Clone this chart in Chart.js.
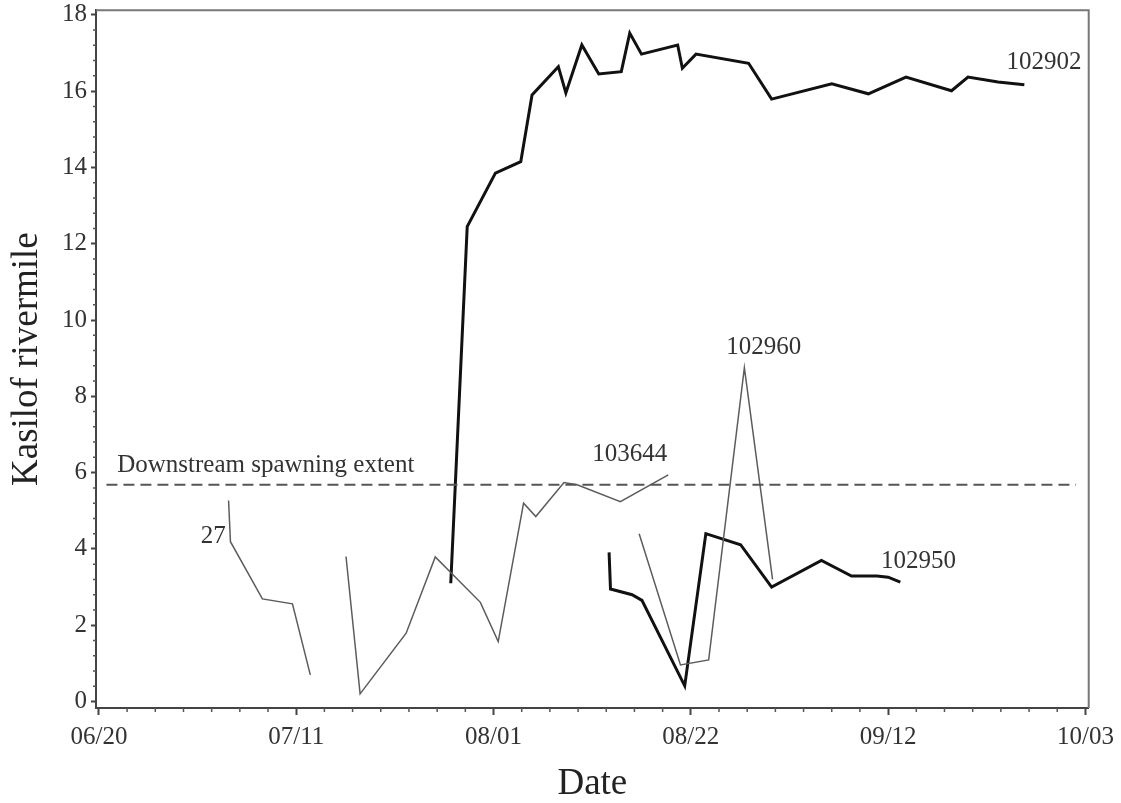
<!DOCTYPE html>
<html>
<head>
<meta charset="utf-8">
<script src="https://cdn.jsdelivr.net/npm/chart.js@4.4.1/dist/chart.umd.min.js"></script>
<style>
  html, body { margin: 0; padding: 0; background: #fff; }
  #wrap { width: 1121px; height: 803px; }
</style>
</head>
<body>
<div id="wrap"><canvas id="riverChart" width="1121" height="803"></canvas></div>
<script>
// x values are days after 06/20, y values are Kasilof rivermile
const tag27Days = [13.8, 14.0, 17.4, 20.6, 22.5];
const tag27Miles = [5.27, 4.19, 2.69, 2.56, 0.70];

const tag103644Days = [26.3, 27.8, 32.7, 35.8, 40.6, 42.5, 45.2, 46.5, 49.5, 50.9, 55.5, 60.6];
const tag103644Miles = [3.80, 0.20, 1.79, 3.79, 2.60, 1.57, 5.20, 4.85, 5.74, 5.68, 5.24, 5.94];

const tag102902Days = [37.45, 39.2, 42.2, 44.9, 46.1, 48.9, 49.7, 51.4, 53.2, 55.6, 56.5, 57.75,
  61.6, 62.1, 63.55, 69.15, 71.6, 78.0, 81.9, 85.9, 90.75, 92.5, 95.7, 98.5];
const tag102902Miles = [3.10, 12.45, 13.85, 14.15, 15.90, 16.64, 15.95, 17.21, 16.45, 16.51, 17.52, 16.97,
  17.21, 16.60, 16.97, 16.73, 15.79, 16.19, 15.93, 16.37, 16.01, 16.37, 16.24, 16.17];

const tag102950Days = [54.3, 54.45, 56.75, 57.8, 62.35, 64.6, 68.3, 71.6, 76.9, 80.1, 82.8, 84.0, 85.3];
const tag102950Miles = [3.91, 2.95, 2.80, 2.65, 0.41, 4.40, 4.11, 3.00, 3.70, 3.29, 3.29, 3.26, 3.13];

const tag102960Days = [57.5, 61.9, 64.9, 68.7, 71.7];
const tag102960Miles = [4.40, 0.96, 1.09, 8.75, 3.20];

const spawnDays = [0.8, 104.0];
const spawnMiles = [5.68, 5.68];

const dateLabels = ['06/20', '07/11', '08/01', '08/22', '09/12', '10/03'];
const dateDays = [0, 21, 42, 63, 84, 105];
const mileLabels = [0, 2, 4, 6, 8, 10, 12, 14, 16, 18];

const seriesNames = ['27', '103644', '102960', '102950', '102902'];
const spawnText = 'Downstream spawning extent';

const serif = '"Liberation Serif", "Times New Roman", serif';

function pts(xs, ys) {
  return xs.map((x, i) => ({ x: x, y: ys[i] }));
}

// every 3 days on x, every 0.4 mile on y
const xTickValues = [];
for (let d = 0; d <= 105; d += 3) xTickValues.push(d);
const yTickValues = [];
for (let k = 0; k <= 45; k++) yTickValues.push(Math.round(k * 4) / 10);

function isMajorY(v) {
  return mileLabels.some(m => Math.abs(m - v) < 1e-6);
}

// label anchors in data units (day, mile) and alignment
const labelSpots = [
  { text: seriesNames[0], x: 13.5, y: 4.32, align: 'right' },
  { text: seriesNames[1], x: 56.5, y: 6.47, align: 'center' },
  { text: seriesNames[2], x: 70.75, y: 9.27, align: 'center' },
  { text: seriesNames[3], x: 83.25, y: 3.67, align: 'left' },
  { text: seriesNames[4], x: 96.6, y: 16.74, align: 'left' },
  { text: spawnText, x: 1.95, y: 6.2, align: 'left' }
];

const extras = {
  id: 'extras',
  afterDraw(chart) {
    const ctx = chart.ctx;
    const a = chart.chartArea;
    const xs = chart.scales.x;
    const ys = chart.scales.y;
    ctx.save();
    // top and right frame
    ctx.strokeStyle = '#777';
    ctx.lineWidth = 2;
    ctx.beginPath();
    ctx.moveTo(a.left, a.top);
    ctx.lineTo(a.right, a.top);
    ctx.lineTo(a.right, a.bottom);
    ctx.stroke();
    // minor ticks
    ctx.strokeStyle = '#555';
    ctx.lineWidth = 1.5;
    ctx.beginPath();
    xTickValues.forEach(v => {
      if (dateDays.includes(v)) return;
      const px = xs.getPixelForValue(v);
      ctx.moveTo(px, a.bottom);
      ctx.lineTo(px, a.bottom + 4);
    });
    yTickValues.forEach(v => {
      if (isMajorY(v)) return;
      const py = ys.getPixelForValue(v);
      ctx.moveTo(a.left, py);
      ctx.lineTo(a.left - 3, py);
    });
    ctx.stroke();
    // series labels
    ctx.fillStyle = '#333';
    ctx.font = '25px ' + serif;
    ctx.textBaseline = 'middle';
    labelSpots.forEach(l => {
      ctx.textAlign = l.align;
      ctx.fillText(l.text, xs.getPixelForValue(l.x), ys.getPixelForValue(l.y));
    });
    ctx.restore();
  }
};

const thin = { borderColor: '#5c5c5c', borderWidth: 1.5 };
const thick = { borderColor: '#111', borderWidth: 3 };

new Chart(document.getElementById('riverChart'), {
  type: 'line',
  data: {
    datasets: [
      Object.assign({ label: spawnText, data: pts(spawnDays, spawnMiles), borderColor: '#555', borderWidth: 2, borderDash: [11, 6] }),
      Object.assign({ label: seriesNames[0], data: pts(tag27Days, tag27Miles) }, thin),
      Object.assign({ label: seriesNames[1], data: pts(tag103644Days, tag103644Miles) }, thin),
      Object.assign({ label: seriesNames[2], data: pts(tag102960Days, tag102960Miles) }, thin),
      Object.assign({ label: seriesNames[3], data: pts(tag102950Days, tag102950Miles) }, thick),
      Object.assign({ label: seriesNames[4], data: pts(tag102902Days, tag102902Miles) }, thick)
    ]
  },
  options: {
    responsive: false,
    animation: false,
    events: [],
    layout: { padding: { top: 10, right: 31, left: 0, bottom: 0 } },
    elements: {
      point: { radius: 0 },
      line: { tension: 0, borderJoinStyle: 'miter', borderCapStyle: 'butt' }
    },
    plugins: {
      legend: { display: false },
      tooltip: { enabled: false }
    },
    scales: {
      x: {
        type: 'linear',
        min: -0.31,
        max: 105.35,
        afterBuildTicks: s => { s.ticks = xTickValues.map(v => ({ value: v })); },
        afterFit: s => { s.height = 95; },
        ticks: {
          autoSkip: false,
          maxRotation: 0,
          minRotation: 0,
          padding: 7,
          color: '#333',
          font: { family: serif, size: 25 },
          callback: v => {
            const i = dateDays.indexOf(v);
            return i >= 0 ? dateLabels[i] : '';
          }
        },
        grid: {
          drawOnChartArea: false,
          tickLength: 7,
          tickWidth: 2,
          tickColor: c => (c.tick && dateDays.includes(c.tick.value)) ? '#444' : 'rgba(0,0,0,0)'
        },
        border: { color: '#444', width: 2 },
        title: {
          display: true,
          text: 'Date',
          color: '#222',
          font: { family: serif, size: 37, lineHeight: 1 },
          padding: { top: 0, bottom: 0 }
        }
      },
      y: {
        type: 'linear',
        min: -0.17,
        max: 18.12,
        afterBuildTicks: s => { s.ticks = yTickValues.map(v => ({ value: v })); },
        afterFit: s => { s.width = 96; },
        ticks: {
          autoSkip: false,
          padding: 4,
          color: '#333',
          font: { family: serif, size: 25, lineHeight: 0.5 },
          callback: v => isMajorY(v) ? String(Math.round(v)) : ''
        },
        grid: {
          drawOnChartArea: false,
          tickLength: 5,
          tickWidth: 2,
          tickColor: c => (c.tick && isMajorY(c.tick.value)) ? '#444' : 'rgba(0,0,0,0)'
        },
        border: { color: '#444', width: 2 },
        title: {
          display: true,
          text: 'Kasilof rivermile',
          color: '#222',
          font: { family: serif, size: 37, lineHeight: 1 },
          padding: { top: 9, bottom: 0 }
        }
      }
    }
  },
  plugins: [extras]
});
</script>
</body>
</html>
